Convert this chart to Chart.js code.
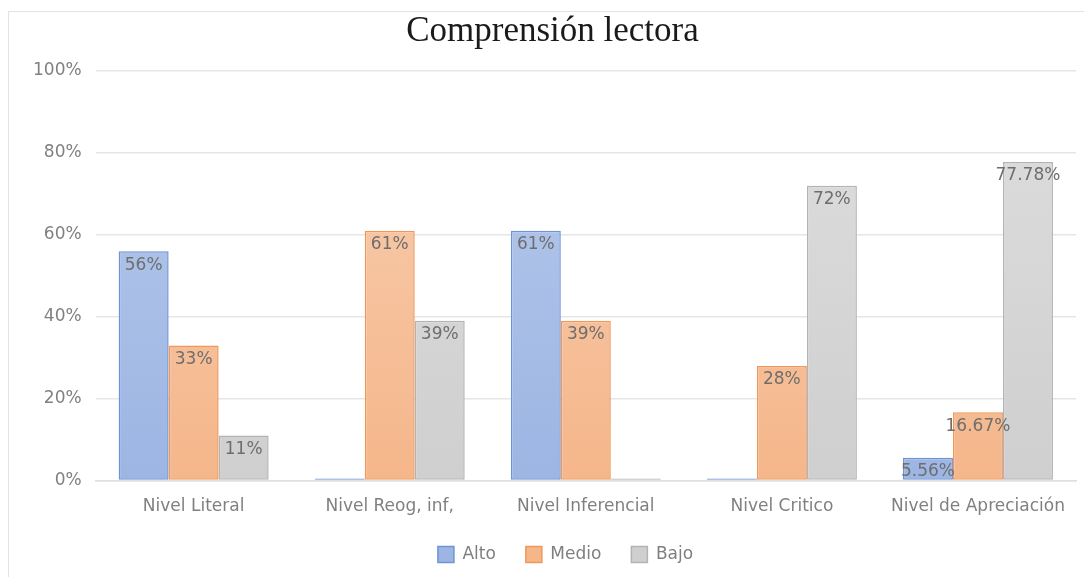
<!DOCTYPE html>
<html>
<head>
<meta charset="utf-8">
<script src="https://cdn.jsdelivr.net/npm/chart.js@4.4.1/dist/chart.umd.min.js"></script>
<style>
  html, body { margin: 0; padding: 0; background: #ffffff; overflow: hidden; }
  #frame { position: absolute; left: 8px; top: 11px; width: 2000px; height: 2000px;
           border-left: 1px solid #e3e3e3; border-top: 1px solid #e3e3e3; }
  #wrap { position: absolute; left: 0; top: 0; width: 1084px; height: 577px; }
</style>
</head>
<body>
<div id="frame"></div>
<div id="wrap"><canvas id="c" width="1084" height="577"></canvas></div>
<script>
const categories = ['Nivel Literal', 'Nivel Reog, inf,', 'Nivel Inferencial', 'Nivel Critico', 'Nivel de Apreciación'];
const seriesNames = ['Alto', 'Medio', 'Bajo'];
const alto  = [56, 0, 61, 0, 5.56];
const medio = [33, 61, 39, 28, 16.67];
const bajo  = [11, 39, 0, 72, 77.78];
const yTicks = [0, 20, 40, 60, 80, 100];

const FONT = "'DejaVu Sans', sans-serif";

function grad(top, bottom) {
  return function(ctx) {
    const ca = ctx.chart.chartArea;
    if (!ca) return bottom;
    const g = ctx.chart.ctx.createLinearGradient(0, ca.top, 0, ca.bottom);
    g.addColorStop(0, top);
    g.addColorStop(1, bottom);
    return g;
  };
}

function fmt(v) {
  return (Number.isInteger(v) ? String(v) : v.toFixed(2)) + '%';
}

const valueLabels = {
  id: 'valueLabels',
  afterDatasetsDraw(chart) {
    const ctx = chart.ctx;
    ctx.save();
    ctx.font = '17px ' + FONT;
    ctx.fillStyle = '#6e6e6e';
    ctx.textAlign = 'center';
    ctx.textBaseline = 'middle';
    chart.data.datasets.forEach((ds, di) => {
      const meta = chart.getDatasetMeta(di);
      meta.data.forEach((el, i) => {
        const v = ds.data[i];
        if (!v) return;
        ctx.fillText(fmt(v), el.x, el.y + 14);
      });
    });
    ctx.restore();
  }
};

const shiftBoxes = {
  id: 'shiftBoxes',
  afterLayout(chart) {
    if (chart.legend) chart.legend.left += 36;
    if (chart.titleBlock) chart.titleBlock.left += 10;
  }
};

const common = { borderWidth: 1.5, borderSkipped: false, minBarLength: 2,
                 categoryPercentage: 0.765, barPercentage: 1.0 };

new Chart(document.getElementById('c'), {
  type: 'bar',
  data: {
    labels: categories,
    datasets: [
      Object.assign({ label: seriesNames[0], data: alto,
        backgroundColor: grad('#b8caeb', '#9cb5e3'), borderColor: '#6f93d6' }, common),
      Object.assign({ label: seriesNames[1], data: medio,
        backgroundColor: grad('#f8cfb2', '#f5b68a'), borderColor: '#ef985a' }, common),
      Object.assign({ label: seriesNames[2], data: bajo,
        backgroundColor: grad('#dedede', '#cfcfcf'), borderColor: '#b3b3b3' }, common)
    ]
  },
  options: {
    responsive: false,
    animation: false,
    devicePixelRatio: 1,
    layout: { padding: { left: 19, right: 8, top: 8, bottom: 4 } },
    plugins: {
      title: {
        display: true,
        text: 'Comprensión lectora',
        color: '#1a1a1a',
        font: { family: "'Liberation Serif', 'Times New Roman', serif", size: 35, weight: 'normal' },
        padding: { top: 3, bottom: 18 }
      },
      legend: {
        position: 'bottom',
        labels: {
          color: '#7f7f7f',
          font: { family: FONT, size: 17 },
          boxWidth: 16, boxHeight: 16,
          padding: 30,
          useBorderRadius: false
        }
      },
      tooltip: { enabled: false }
    },
    scales: {
      x: {
        grid: { display: false, drawTicks: false },
        border: { display: true, color: '#e0e0e0', width: 1.5 },
        ticks: { color: '#808080', font: { family: FONT, size: 17 }, padding: 16, maxRotation: 0 },
        afterFit(scale) { scale.height -= 17; }
      },
      y: {
        min: 0, max: 100,
        afterBuildTicks(scale) { scale.ticks = yTicks.map(v => ({ value: v })); },
        grid: { color: '#e6e6e6', lineWidth: 1.5, drawTicks: false },
        border: { display: false },
        ticks: { color: '#808080', font: { family: FONT, size: 17 }, padding: 14,
                 callback: v => v + '%' }
      }
    }
  },
  plugins: [valueLabels, shiftBoxes]
});
</script>
</body>
</html>
